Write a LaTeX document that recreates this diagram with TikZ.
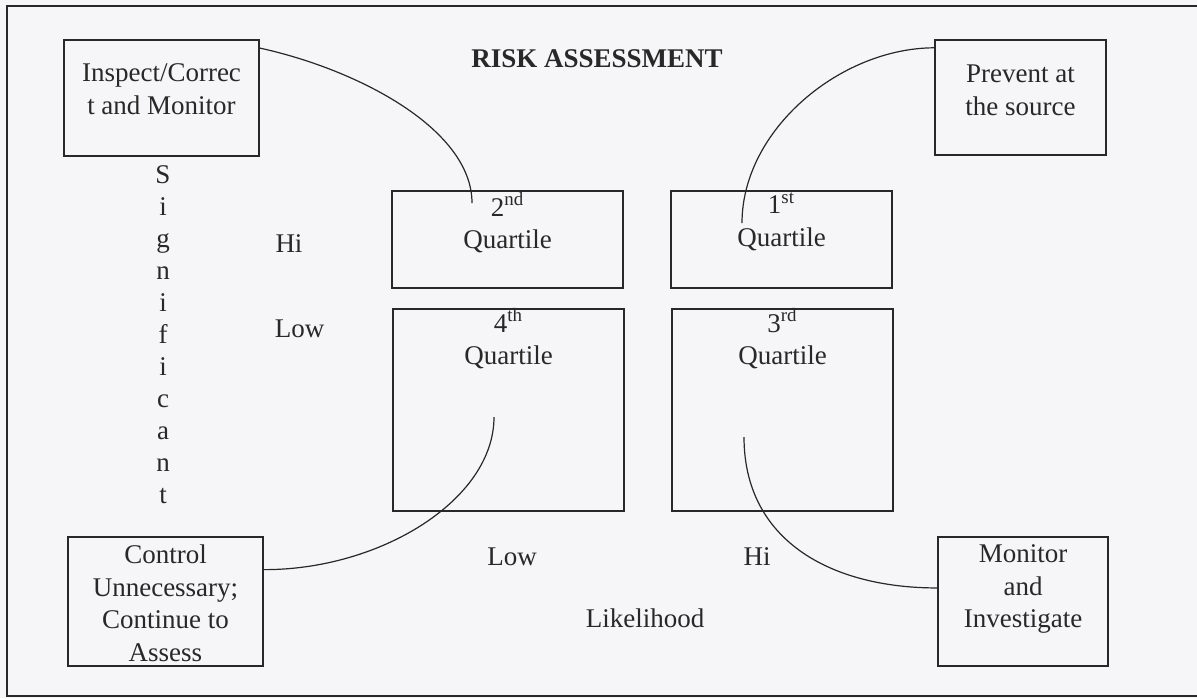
\documentclass[tikz,border=0pt]{standalone}
\usepackage{fontspec}
\setmainfont{Liberation Serif}
\usetikzlibrary{positioning}
\definecolor{paper}{RGB}{246,246,248}
\definecolor{ink}{RGB}{40,40,40}

\begin{document}
\begin{tikzpicture}[x=0.5pt,y=-0.5pt]
  \tikzstyle{box}=[draw=ink,line width=0.6pt,inner sep=0pt]
  \tikzstyle{txt}=[text=ink,font=\fontsize{13.5}{16.3}\selectfont,align=center,inner sep=0pt]
  \tikzstyle{link}=[draw=ink,line width=0.6pt]
  \useasboundingbox[fill=paper] (0,0) rectangle (1197,698);
  \draw[ink,line width=0.7pt] (1197,6) -- (7,6) -- (7,696) -- (1197,696);

  % corner boxes
  \node[box,minimum width=97.5pt,minimum height=58pt] (insp) at (161.5,98) {};
  \node[box,minimum width=85.5pt,minimum height=57.5pt] (prev) at (1020.5,97.5) {};
  \node[box,minimum width=97.5pt,minimum height=64.5pt] (ctrl) at (165.5,601.5) {};
  \node[box,minimum width=85pt,minimum height=64.5pt] (mon) at (1023,601.5) {};
  \node[txt,below=12pt of insp.north] (insptxt) {Inspect/Correc\\t and Monitor};
  \node[txt,below=12.5pt of prev.north] (prevtxt) {Prevent at\\the source};
  \node[txt,below=4pt of ctrl.north] (ctrltxt) {Control\\Unnecessary;\\Continue to\\Assess};
  \node[txt,below=4pt of mon.north] (montxt) {Monitor\\and\\Investigate};

  % quartiles
  \node[box,minimum width=115.5pt,minimum height=48.5pt] (q2) at (507.5,239.5) {};
  \node[box,minimum width=110.5pt,minimum height=48.5pt] (q1) at (781.5,239.5) {};
  \node[box,minimum width=115.5pt,minimum height=101pt] (q4) at (508.5,410) {};
  \node[box,minimum width=110.5pt,minimum height=101pt] (q3) at (782.5,410) {};
  \node[txt,below=1pt of q2.north] (q2txt) {2\textsuperscript{nd}\\Quartile};
  \node[txt,below=1pt of q1.north] (q1txt) {1\textsuperscript{st}\\Quartile};
  \node[txt,below=0pt of q4.north] (q4txt) {4\textsuperscript{th}\\Quartile};
  \node[txt,below=0pt of q3.north] (q3txt) {3\textsuperscript{rd}\\Quartile};

  % axis labels
  \node[txt,anchor=base,font=\fontsize{13.5}{16.3}\selectfont\bfseries] (title) at (597,67) {RISK ASSESSMENT};
  \foreach \ch [count=\k] in {S,i,g,n,i,f,i,c,a,n,t}
    \node[txt,anchor=base] (sig\k) at (163,{183+32*(\k-1)}) {\ch};
  \node[txt,anchor=base] (sighi) at (289,252) {Hi};
  \node[txt,anchor=base] (siglow) at (299.5,337) {Low};
  \node[txt,anchor=base] (likelow) at (512,565) {Low};
  \node[txt,anchor=base] (likehi) at (757,565) {Hi};
  \node[txt,anchor=base] (like) at (645,627) {Likelihood};

  % connectors
  \coordinate (q2tip) at (472,203);
  \coordinate (q1tip) at (742,223);
  \coordinate (q4tip) at (494,417);
  \coordinate (q3tip) at (744,437);
  \draw[link] (insp.27) .. controls (360,70) and (472,130) .. (q2tip);
  \draw[link] (prev.150) .. controls (840,48) and (742,130) .. (q1tip);
  \draw[link] (q4tip) .. controls (494,500) and (380,570) .. (ctrl.18);
  \draw[link] (q3tip) .. controls (744,540) and (830,588) .. (mon.171);
\end{tikzpicture}
\end{document}
